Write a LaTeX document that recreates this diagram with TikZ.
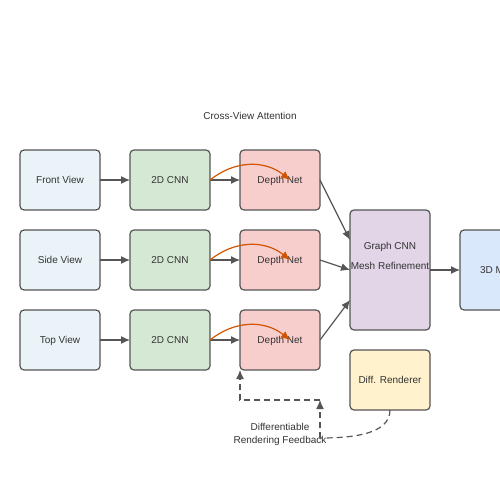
\documentclass[tikz,border=0pt]{standalone}
\usepackage{fontspec}
\setmainfont{Liberation Sans}
\usetikzlibrary{positioning,arrows.meta}
\definecolor{EdgeGray}{HTML}{555555}
\definecolor{TextGray}{HTML}{333333}
\definecolor{ViewBlue}{HTML}{E9F3F8}
\definecolor{CnnGreen}{HTML}{D5E8D4}
\definecolor{DepthRed}{HTML}{F8CECC}
\definecolor{GraphPurple}{HTML}{E1D5E7}
\definecolor{MeshBlue}{HTML}{DAE8FC}
\definecolor{RenderYellow}{HTML}{FFF2CC}
\definecolor{AttnOrange}{HTML}{D35400}

\begin{document}
\begin{tikzpicture}[x=1pt, y=-1pt, >={Latex[length=9pt,width=8pt]},
                    node distance=20pt and 30pt,
                    every node/.style={font=\fontsize{10}{13}\selectfont, text=TextGray},
                    box/.style={draw=EdgeGray, line width=1.2pt, rounded corners=4pt,
                                minimum width=80pt, minimum height=60pt, outer sep=0pt,
                                text height=7pt, text depth=0pt},
                    link/.style={draw=EdgeGray, line width=1.2pt},
                    feedback/.style={link, dash pattern=on 6pt off 4pt}]
\path[use as bounding box] (0,0) rectangle (500,500);
\node[box, fill=ViewBlue] (front) at (60,180) {Front View};
\node[box, fill=ViewBlue, below=of front] (side) {Side View};
\node[box, fill=ViewBlue, below=of side] (top) {Top View};
\node[box, fill=CnnGreen, right=of front] (cnn1) {2D CNN};
\node[box, fill=CnnGreen, right=of side] (cnn2) {2D CNN};
\node[box, fill=CnnGreen, right=of top] (cnn3) {2D CNN};
\node[box, fill=DepthRed, right=of cnn1] (depth1) {Depth Net};
\node[box, fill=DepthRed, right=of cnn2] (depth2) {Depth Net};
\node[box, fill=DepthRed, right=of cnn3] (depth3) {Depth Net};
\node[box, fill=GraphPurple, minimum height=120pt,
      label={[align=center, yshift=14pt]center:Graph CNN\\[7pt]Mesh Refinement}] (graph) at (390,270) {};
\node[box, fill=MeshBlue, minimum height=80pt, right=of graph] (mesh) {3D Mesh};
\node[box, fill=RenderYellow] (render) at (390,380) {Diff. Renderer};
\node (attn) at (250,116) {Cross-View Attention};
\node[align=center] (fbtext) at (280,434) {Differentiable\\Rendering Feedback};
\coordinate (fb) at (320,438);
\coordinate (turn) at (320,400);
% views to CNNs to depth nets
\draw[link, ->] (front) -- (cnn1);
\draw[link, ->] (side) -- (cnn2);
\draw[link, ->] (top) -- (cnn3);
\draw[link, ->] (cnn1) -- (depth1);
\draw[link, ->] (cnn2) -- (depth2);
\draw[link, ->] (cnn3) -- (depth3);
% cross-view attention
\draw[link, ->, draw=AttnOrange, AttnOrange] (cnn1.east) .. controls +(25,-20) and +(-25,-20) .. ([xshift=10pt]depth1.center);
\draw[link, ->, draw=AttnOrange, AttnOrange] (cnn2.east) .. controls +(25,-20) and +(-25,-20) .. ([xshift=10pt]depth2.center);
\draw[link, ->, draw=AttnOrange, AttnOrange] (cnn3.east) .. controls +(25,-20) and +(-25,-20) .. ([xshift=10pt]depth3.center);
% fusion
\draw[link, ->] (depth1.east) -- ([yshift=30pt]graph.west);
\draw[link, ->] (depth2.east) -- (graph.west);
\draw[link, ->] (depth3.east) -- ([yshift=-30pt]graph.west);
\draw[link, ->] (graph) -- (mesh);
% feedback
\draw[feedback] (render.south) .. controls +(0,25) and +(30,0) .. (fb);
\draw[feedback, ->] (fb) -- (turn);
\draw[feedback, ->] (turn) -| (depth3.south west);
\end{tikzpicture}
\end{document}
